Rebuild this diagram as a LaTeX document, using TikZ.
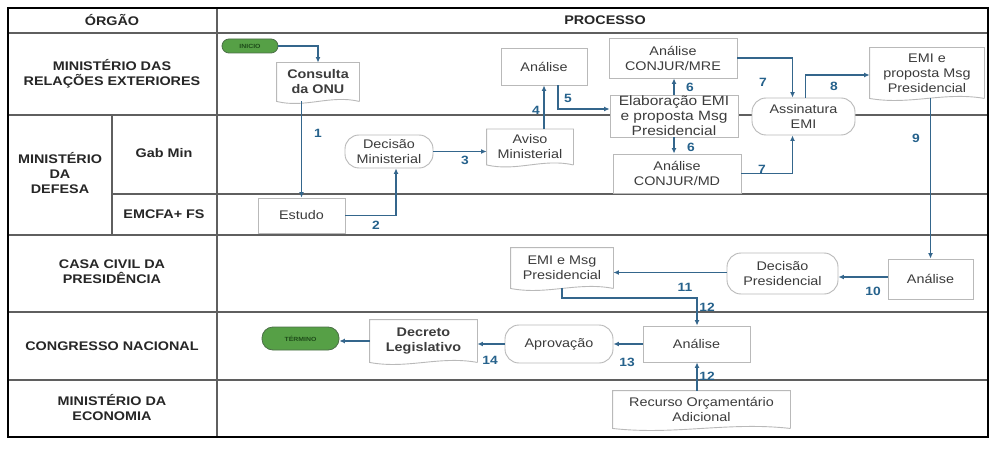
\documentclass[tikz,border=0pt]{standalone}
\usepackage{fontspec}
\setmainfont{Liberation Sans}[FakeStretch=1.15]
\usetikzlibrary{arrows.meta,calc}
\definecolor{arrowblue}{RGB}{52,102,140}
\definecolor{numblue}{RGB}{38,98,140}
\definecolor{boxgray}{RGB}{185,185,185}
\definecolor{lanegray}{RGB}{95,95,95}
\definecolor{termgreen}{RGB}{86,160,70}
\definecolor{termdark}{RGB}{30,75,25}
\definecolor{boxtext}{RGB}{60,60,60}
\newcommand{\DocOutline}[1]{\draw[draw=boxgray,line width=0.9pt] (#1.south east) -- (#1.north east) -- (#1.north west) -- (#1.south west) .. controls ($(#1.south west)!0.35!(#1.south east)+(0,7)$) and ($(#1.south west)!0.65!(#1.south east)+(0,-7)$) .. (#1.south east);}
\begin{document}
\begin{tikzpicture}[x=1pt,y=-1pt,
  box/.style={draw=boxgray,line width=0.9pt,fill=white,align=center,inner sep=1pt,font=\fontsize{12.5}{15}\selectfont,text=boxtext},
  rbox/.style={box,rounded corners=14pt},
  dbox/.style={box,draw=none},
  term/.style={fill=termgreen,draw=termdark!80,line width=0.8pt,rounded corners=7pt,inner sep=1pt,font=\fontsize{6}{7}\selectfont\bfseries,text=termdark},
  arr/.style={draw=arrowblue,line width=1.3pt,-{Latex[length=5.5pt,width=5pt]}},
  num/.style={font=\fontsize{12}{13}\selectfont\bfseries,text=numblue,inner sep=0pt},
  lane/.style={font=\fontsize{12.5}{15}\selectfont\bfseries,align=center,text=black!85},
  laneline/.style={draw=lanegray,line width=1.2pt}
]
\useasboundingbox (0,0) rectangle (1000,449);
\fill[white] (0,0) rectangle (1000,449);
% lane grid
\draw[laneline] (8,33) -- (988,33);
\draw[laneline] (8,115) -- (988,115);
\draw[laneline] (112,194) -- (988,194);
\draw[laneline] (8,235) -- (988,235);
\draw[laneline] (8,312) -- (988,312);
\draw[laneline] (8,380) -- (988,380);
\draw[laneline] (217,8) -- (217,437);
\draw[laneline] (112,115) -- (112,235);
\draw[black,line width=1.8pt] (8,8) rectangle (988,437);
% lane labels
\node[lane] (h1) at (112,20) {ÓRGÃO};
\node[lane] (h2) at (605,20) {PROCESSO};
\node[lane] (l1) at (112,74) {MINISTÉRIO DAS\\RELAÇÕES EXTERIORES};
\node[lane] (l2) at (60,173) {MINISTÉRIO\\DA\\DEFESA};
\node[lane] (l2a) at (164,153) {Gab Min};
\node[lane] (l2b) at (164,214) {EMCFA+ FS};
\node[lane] (l3) at (112,272) {CASA CIVIL DA\\PRESIDÊNCIA};
\node[lane] (l4) at (112,346) {CONGRESSO NACIONAL};
\node[lane] (l5) at (112,408) {MINISTÉRIO DA\\ECONOMIA};
% nodes
\node[term,minimum width=56pt,minimum height=14pt] (inicio) at (250,46) {INICIO};
\node[dbox,minimum width=82pt,minimum height=38pt,font=\fontsize{12.5}{15}\selectfont\bfseries] (consulta) at (318,82) {Consulta\\da ONU};
\node[box,minimum width=87pt,minimum height=35pt] (estudo) at (301.5,215.5) {Estudo};
\node[rbox,minimum width=88pt,minimum height=33pt] (decmin) at (389,151.5) {Decisão\\Ministerial};
\node[dbox,minimum width=86pt,minimum height=35pt] (aviso) at (530,147) {Aviso\\Ministerial};
\node[box,minimum width=86pt,minimum height=37pt] (analise1) at (544,66.5) {Análise};
\node[box,minimum width=128pt,minimum height=42pt,font=\fontsize{13.5}{15}\selectfont] (elab) at (674,116) {Elaboração EMI\\e proposta Msg\\Presidencial};
\node[box,minimum width=128pt,minimum height=40pt] (conjmre) at (673,58) {Análise\\CONJUR/MRE};
\node[box,minimum width=128pt,minimum height=39pt] (conjmd) at (677,173.5) {Análise\\CONJUR/MD};
\node[rbox,minimum width=103pt,minimum height=37pt] (assin) at (803.5,116.5) {Assinatura\\EMI};
\node[dbox,minimum width=114pt,minimum height=50pt] (emi1) at (927,73) {EMI e\\proposta Msg\\Presidencial};
\node[box,minimum width=85pt,minimum height=40pt] (analise2) at (930.5,279) {Análise};
\node[rbox,minimum width=111pt,minimum height=41pt] (decpres) at (782.5,273.5) {Decisão\\Presidencial};
\node[dbox,minimum width=102pt,minimum height=40pt] (emimsg) at (562,268) {EMI e Msg\\Presidencial};
\node[box,minimum width=107pt,minimum height=36pt] (analise3) at (696.5,344) {Análise};
\node[dbox,minimum width=177pt,minimum height=37pt] (recurso) at (701.5,409.5) {Recurso Orçamentário\\Adicional};
\node[rbox,minimum width=108pt,minimum height=38pt] (aprov) at (559,344) {Aprovação};
\node[dbox,minimum width=107pt,minimum height=42pt,font=\fontsize{12.5}{15}\selectfont\bfseries] (decreto) at (423.5,341) {Decreto\\Legislativo};
\node[term,minimum width=77pt,minimum height=23pt,rounded corners=11pt] (termino) at (300.5,338.5) {TÉRMINO};
% document outlines
\DocOutline{consulta}
\DocOutline{aviso}
\DocOutline{emi1}
\DocOutline{emimsg}
\DocOutline{recurso}
\DocOutline{decreto}
% connectors
\draw[arr] (inicio.east) -| (consulta.north);
\draw[arr] (consulta.south -| estudo.north) -- (estudo.north);
\draw[arr] (estudo.east) -| ([xshift=7pt]decmin.south);
\draw[arr] (decmin.east) -- (decmin.east -| aviso.west);
\draw[arr] (analise1.south |- aviso.north) -- (analise1.south);
\draw[arr] ([xshift=14pt]analise1.south) |- ([yshift=7pt]elab.west);
\draw[arr] (elab.north) -- (elab.north |- conjmre.south);
\draw[arr] (elab.south) -- (elab.south |- conjmd.north);
\draw[arr] (conjmre.east) -| ([xshift=-11pt]assin.north);
\draw[arr] (conjmd.east) -| ([xshift=-11pt]assin.south);
\draw[arr] ([xshift=2pt]assin.north) |- ([yshift=-2pt]emi1.west);
\draw[arr] (analise2.north |- emi1.south) -- (analise2.north);
\draw[arr] ([yshift=2pt]analise2.west) -- ([yshift=2pt]analise2.west -| decpres.east);
\draw[arr] ([yshift=1pt]decpres.west) -- ([yshift=1pt]decpres.west -| emimsg.east);
\coordinate (j12) at (697,298);
\draw[arr] (emimsg.south) |- (j12) -- (j12 |- analise3.north);
\draw[arr] (j12 |- recurso.north) -- (j12 |- analise3.south);
\draw[arr] (analise3.west) -- (analise3.west -| aprov.east);
\draw[arr] (aprov.west) -- (aprov.west -| decreto.east);
\draw[arr] (decreto.west) -- (decreto.west -| termino.east);
% numbers
\node[num] (n1) at (318,133) {1};
\node[num] (n2) at (376,225) {2};
\node[num] (n3) at (465,160) {3};
\node[num] (n4) at (536,110) {4};
\node[num] (n5) at (568,98) {5};
\node[num] (n6a) at (690,87) {6};
\node[num] (n6b) at (691,147) {6};
\node[num] (n7a) at (763,82) {7};
\node[num] (n7b) at (762,169) {7};
\node[num] (n8) at (834,86) {8};
\node[num] (n9) at (916,138) {9};
\node[num] (n10) at (873,291) {10};
\node[num] (n11) at (685,287) {11};
\node[num] (n12a) at (707,307) {12};
\node[num] (n12b) at (707,376) {12};
\node[num] (n13) at (627,362) {13};
\node[num] (n14) at (490,360) {14};
\end{tikzpicture}
\end{document}
